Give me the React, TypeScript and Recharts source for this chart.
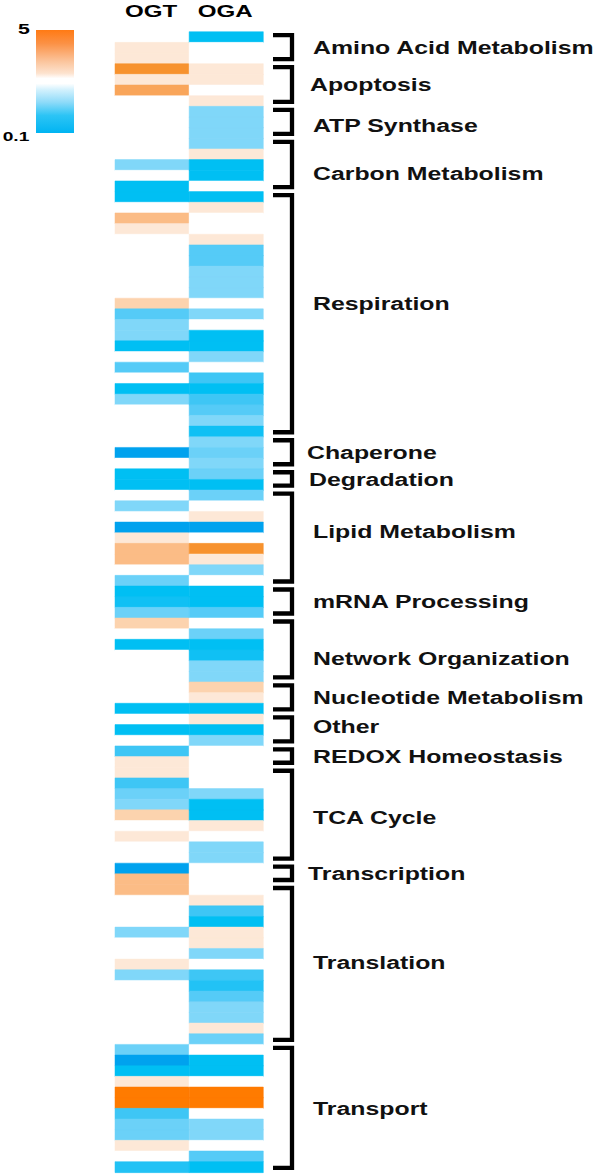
import { BarChart, Bar, XAxis, YAxis, Cell } from "recharts";

// fold change per protein row (OGT / OGA), 1 = unchanged (white)
const ogtFold = [
  1, 1.3, 1.3, 3, 1.3, 2.5, 1, 1, 1, 1,
  1, 1, 0.7, 1, 0.2, 0.2, 1, 2, 1.3, 1,
  1, 1, 1, 1, 1, 1.8, 0.5, 0.7, 0.7, 0.2,
  1, 0.5, 1, 0.2, 0.7, 1, 1, 1, 1, 0.1,
  1, 0.2, 0.2, 1, 0.7, 1, 0.1, 1.3, 2, 2,
  1, 0.6, 0.2, 0.25, 0.6, 1.8, 1, 0.2, 1, 1,
  1, 1, 1, 0.2, 1, 0.2, 1, 0.4, 1.3, 1.3,
  0.4, 0.6, 0.7, 1.8, 1, 1.3, 1, 1, 0.1, 2,
  2, 1, 1, 1, 0.7, 1, 1, 1.3, 0.7, 1,
  1, 1, 1, 1, 1, 0.6, 0.1, 0.2, 1.3, 5,
  5, 0.4, 0.6, 0.6, 1.3, 1, 0.3,
];

const ogaFold = [
  0.2, 1, 1, 1.3, 1.3, 1, 1.3, 0.7, 0.7, 0.7,
  0.7, 1.3, 0.2, 0.2, 1, 0.2, 1.3, 1, 1, 1.3,
  0.5, 0.5, 0.7, 0.7, 0.7, 1, 0.7, 1, 0.2, 0.2,
  0.7, 1, 0.45, 0.2, 0.4, 0.5, 0.65, 0.25, 0.7, 0.6,
  0.7, 0.6, 0.2, 0.6, 1, 1.3, 0.1, 1, 3, 1.3,
  0.7, 1, 0.2, 0.2, 0.5, 1, 0.6, 0.2, 0.25, 0.7,
  0.7, 1.6, 1.3, 0.2, 1.3, 0.2, 0.7, 1, 1, 1,
  1, 0.7, 0.2, 0.2, 1.3, 1, 0.7, 0.7, 1, 1,
  1, 1.3, 0.4, 0.2, 1.3, 1.3, 0.7, 1, 0.4, 0.3,
  0.5, 0.7, 0.7, 1.3, 0.6, 1, 0.2, 0.2, 1, 5,
  5, 1, 0.7, 0.7, 1, 0.5, 0.2,
];

const groupNames = [
  "Amino Acid Metabolism", "Apoptosis", "ATP Synthase", "Carbon Metabolism",
  "Respiration", "Chaperone", "Degradation", "Lipid Metabolism",
  "mRNA Processing", "Network Organization", "Nucleotide Metabolism", "Other",
  "REDOX Homeostasis", "TCA Cycle", "Transcription", "Translation", "Transport",
];
const groupSizes = [3, 4, 3, 5, 23, 3, 2, 9, 3, 6, 3, 3, 2, 9, 2, 15, 12];

const columns = ["OGT", "OGA"];
const legendTicks = ["5", "0.1"];

// ---- layout ----
const W = 600;
const H = 1176;
const TOP = 31.7;
const BOTTOM = 1172.3;
const LEFT = 115;
const RIGHT = 263.3;
const STRETCH = 1.42; // the figure is stretched horizontally
const FONT = "'Liberation Sans', Arial, Helvetica, sans-serif";

// small nudges of label centres vs. the bracket middle
const labelShift: Record<string, number> = {
  "ATP Synthase": 3,
  "Carbon Metabolism": 9,
  Respiration: -10,
  "Lipid Metabolism": -6,
  "Network Organization": 9,
  Other: -3,
  "TCA Cycle": 3,
  Translation: -2,
};
const labelX: Record<string, number> = {
  Apoptosis: 310,
  Chaperone: 307,
  Degradation: 309,
  Transcription: 308,
};

const colorStops: [number, string][] = [
  [5, "#ff7b00"],
  [3, "#f7922e"],
  [2.5, "#f9a55a"],
  [2, "#fbbc86"],
  [1.6, "#fcd3ae"],
  [1.2, "#fde8d7"],
  [0.9, "#ffffff"],
  [0.65, "#80d7f9"],
  [0.6, "#6bd1f8"],
  [0.5, "#55cbf7"],
  [0.4, "#3ec6f5"],
  [0.3, "#22c2f5"],
  [0.25, "#10c0f4"],
  [0.2, "#00bff3"],
  [0, "#00a2ee"],
];

function foldColor(v: number): string {
  for (const [min, c] of colorStops) {
    if (v >= min) return c;
  }
  return "#00a2ee";
}

const rows = ogtFold.map((_, i) => ({ row: i, ogt: 1, oga: 1 }));

function Overlay() {
  const rowH = (BOTTOM - TOP) / ogtFold.length;
  let start = 0;
  const groups = groupNames.map((name, gi) => {
    const s = start;
    start += groupSizes[gi];
    return { name, top: TOP + s * rowH, bottom: TOP + start * rowH };
  });
  const colW = (RIGHT - LEFT) / columns.length;

  return (
    <svg
      width={W}
      height={H}
      style={{ position: "absolute", left: 0, top: 0, pointerEvents: "none" }}
    >
      <defs>
        <linearGradient id="legendGrad" x1="0" y1="0" x2="0" y2="1">
          <stop offset="0" stopColor="#ff7a14" />
          <stop offset="0.13" stopColor="#fb9145" />
          <stop offset="0.3" stopColor="#fbc39a" />
          <stop offset="0.42" stopColor="#fde3cf" />
          <stop offset="0.47" stopColor="#ffffff" />
          <stop offset="0.52" stopColor="#ffffff" />
          <stop offset="0.58" stopColor="#d3f1fd" />
          <stop offset="0.7" stopColor="#8fdbf9" />
          <stop offset="0.83" stopColor="#2cc4f5" />
          <stop offset="1" stopColor="#00b4f2" />
        </linearGradient>
      </defs>

      {/* colour key */}
      <rect x={36} y={30} width={38} height={103} fill="url(#legendGrad)" />
      <text
        transform={`translate(24, 33.5) scale(${STRETCH},1)`}
        textAnchor="middle"
        fontFamily={FONT}
        fontWeight="bold"
        fontSize={15}
      >
        {legendTicks[0]}
      </text>
      <text
        transform={`translate(16, 140.5) scale(${STRETCH},1)`}
        textAnchor="middle"
        fontFamily={FONT}
        fontWeight="bold"
        fontSize={13.5}
      >
        {legendTicks[1]}
      </text>

      {/* column headers */}
      {columns.map((c, i) => (
        <text
          key={c}
          transform={`translate(${LEFT + colW * (i + 0.5) - 1}, 16.5) scale(${STRETCH},1)`}
          textAnchor="middle"
          fontFamily={FONT}
          fontWeight="bold"
          fontSize={17}
        >
          {c}
        </text>
      ))}

      {/* brackets + labels */}
      {groups.map((g) => {
        const y1 = g.top + 3.5;
        const y2 = g.bottom - 4.5;
        const cy = (g.top + g.bottom) / 2 + (labelShift[g.name] ?? 0);
        return (
          <g key={g.name}>
            <path
              d={`M273 ${y1} H292 V${y2} H273`}
              fill="none"
              stroke="#000"
              strokeWidth={4.3}
              strokeLinejoin="miter"
            />
            <text
              transform={`translate(${labelX[g.name] ?? 313}, ${cy + 6.3}) scale(${STRETCH},1)`}
              fontFamily={FONT}
              fontWeight="bold"
              fontSize={17.5}
              fill="#111"
            >
              {g.name}
            </text>
          </g>
        );
      })}
    </svg>
  );
}

export default function App() {
  return (
    <div
      style={{
        position: "absolute",
        left: 0,
        top: 0,
        width: W,
        height: H,
        background: "#fff",
      }}
    >
      <BarChart
        width={W}
        height={H}
        data={rows}
        layout="vertical"
        barCategoryGap={0}
        barGap={0}
        margin={{ top: TOP, bottom: H - BOTTOM, left: LEFT, right: W - RIGHT }}
      >
        <XAxis type="number" domain={[0, 2]} hide />
        <YAxis type="category" dataKey="row" hide />
        <Bar dataKey="ogt" stackId="cells" isAnimationActive={false}>
          {ogtFold.map((f, i) => (
            <Cell key={`t${i}`} fill={foldColor(f)} stroke={foldColor(f)} strokeWidth={0.5} />
          ))}
        </Bar>
        <Bar dataKey="oga" stackId="cells" isAnimationActive={false}>
          {ogaFold.map((f, i) => (
            <Cell key={`a${i}`} fill={foldColor(f)} stroke={foldColor(f)} strokeWidth={0.5} />
          ))}
        </Bar>
      </BarChart>
      <Overlay />
    </div>
  );
}
